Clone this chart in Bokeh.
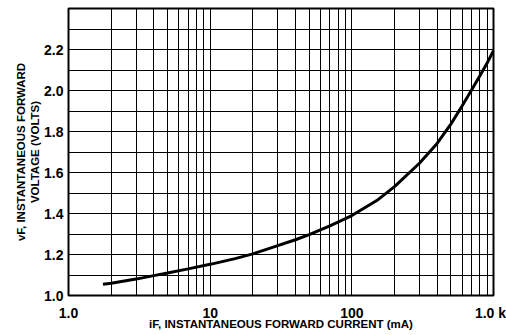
from bokeh.plotting import figure
from bokeh.models import Range1d, FixedTicker, LogAxis, LogScale
from bokeh.embed import file_html
from bokeh.resources import INLINE

# data
current_ma = [1.75, 2, 3, 4, 5, 7, 10, 15, 20, 30, 40, 50, 70, 100, 150, 200, 300, 400, 500, 600, 700, 800, 900, 1000]
voltage_v = [1.055, 1.06, 1.08, 1.097, 1.11, 1.13, 1.152, 1.18, 1.203, 1.243, 1.272, 1.297, 1.340, 1.390,
             1.463, 1.531, 1.645, 1.742, 1.836, 1.924, 2.002, 2.071, 2.133, 2.194]

x_major = [1, 10, 100, 1000]
x_minor = [m * 10 ** k for k in range(3) for m in range(2, 10)]
x_labels = {1: "1.0", 10: "10", 100: "100", 1000: ""}
x_last_label = {1000: "1.0 k"}
y_major = [1.0, 1.2, 1.4, 1.6, 1.8, 2.0, 2.2]
y_minor = [1.1, 1.3, 1.5, 1.7, 1.9, 2.1, 2.3]

x_title = "iF, INSTANTANEOUS FORWARD CURRENT (mA)"
y_title = "vF, INSTANTANEOUS FORWARD\nVOLTAGE (VOLTS)"

FONT = "Liberation Sans"

p = figure(width=506, height=335, x_axis_type="log",
           x_range=Range1d(1, 1000), y_range=Range1d(1.0, 2.4),
           output_backend="svg", toolbar_location=None,
           min_border_left=68, min_border_right=13, min_border_top=8, min_border_bottom=40)
p.background_fill_color = "white"
p.border_fill_color = "white"
p.outline_line_color = "black"
p.outline_line_width = 2

# extra axis carrying only the "1.0 k" label, nudged so it stays on the canvas
p.extra_x_ranges = {"k": Range1d(1, 1050)}
p.extra_x_scales = {"k": LogScale()}
axis_k = LogAxis(x_range_name="k", ticker=FixedTicker(ticks=[1000]),
                 major_label_overrides=x_last_label)
p.add_layout(axis_k, "below")
main_x = p.below[0]
p.below = [axis_k, main_x]

main_x.ticker = FixedTicker(ticks=x_major, minor_ticks=x_minor)
p.yaxis.ticker = FixedTicker(ticks=y_major, minor_ticks=y_minor)
main_x.major_label_overrides = x_labels
p.yaxis.major_label_overrides = {v: f"{v:.1f}" for v in y_major}

for ax in [axis_k, main_x] + list(p.yaxis):
    ax.major_tick_line_color = None
    ax.minor_tick_line_color = None
    ax.major_tick_out = 0
    ax.minor_tick_out = 0
    ax.major_tick_in = 0
    ax.minor_tick_in = 0
    ax.axis_line_color = None
    ax.major_label_text_font = FONT
    ax.major_label_text_font_size = "14px"
    ax.major_label_text_font_style = "bold"
    ax.major_label_text_color = "black"
    ax.axis_label_text_font = FONT
    ax.axis_label_text_font_size = "11.5px"
    ax.axis_label_text_font_style = "bold"
    ax.axis_label_text_color = "black"

axis_k.major_label_standoff = 9
main_x.major_label_standoff = -16
main_x.axis_label = x_title
main_x.axis_label_standoff = -3
p.yaxis.major_label_standoff = 5
p.yaxis.axis_label = y_title
p.yaxis.axis_label_standoff = 0

for g in (p.xgrid, p.ygrid):
    g.grid_line_color = "black"
    g.grid_line_width = 1
    g.grid_line_alpha = 1
    g.minor_grid_line_color = "black"
    g.minor_grid_line_width = 1

p.line(current_ma, voltage_v, line_color="black", line_width=3)

open("out.html", "w").write(file_html(p, INLINE))
